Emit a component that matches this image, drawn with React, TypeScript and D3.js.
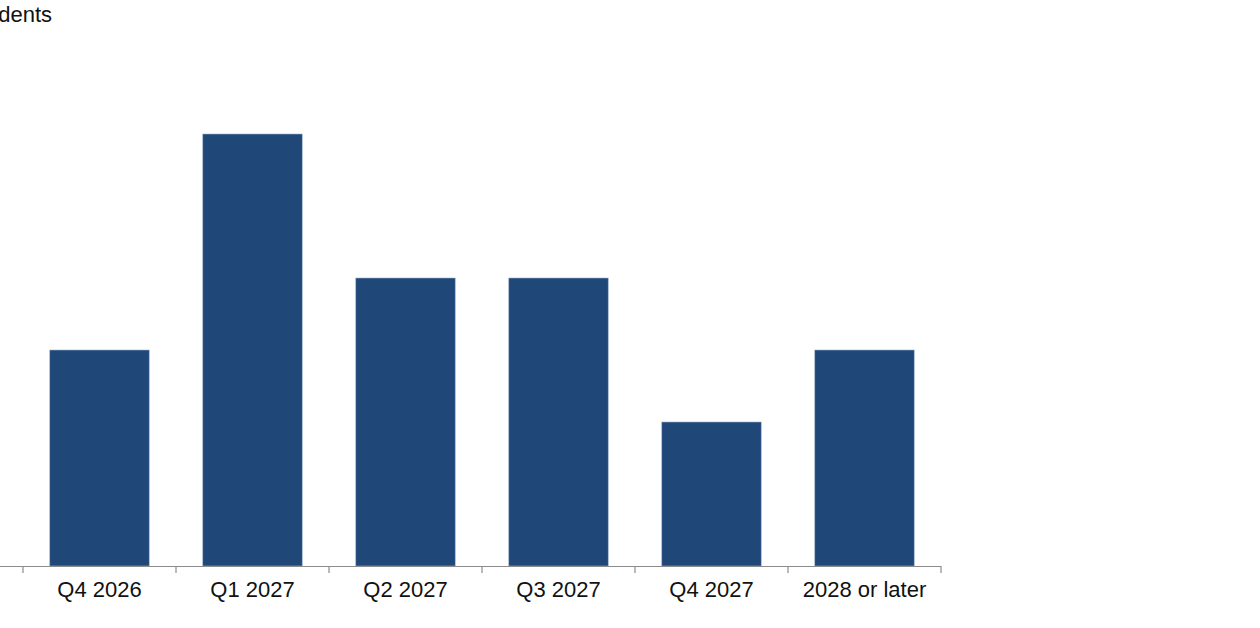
import { scaleBand, scaleLinear } from "d3";
import React from "react";

const categories = ["Q4 2026", "Q1 2027", "Q2 2027", "Q3 2027", "Q4 2027", "2028 or later"];
const respondents = [3, 6, 4, 4, 2, 3];
const yLabel = "Number of respondents";

const width = 1260;
const height = 628;
const baseY = 566;

const App: React.FC = () => {
	const xScale = scaleBand()
		.domain(categories)
		.range([23, 941])
		.paddingInner(0.35)
		.paddingOuter(0.175);
	const yScale = scaleLinear().domain([0, 7]).range([baseY, 62]);
	const step = xScale.step();
	const tickXs = categories.map((c) => (xScale(c) || 0) - (step * xScale.paddingInner()) / 2);
	tickXs.push(941);

	return (
		<svg
			width={width}
			height={height}
			style={{ position: "absolute", left: 0, top: 0, fontFamily: "Arial, 'Liberation Sans', sans-serif" }}>
			<rect width={width} height={height} fill="#fff" />
			<text x={52} y={22} textAnchor="end" fontSize={22} fill="#111">
				{yLabel}
			</text>
			{respondents.map((v, i) => (
				<rect
					key={i}
					x={xScale(categories[i]) || 0}
					y={yScale(v)}
					width={xScale.bandwidth()}
					height={baseY - yScale(v)}
					fill="#1F4879"
					stroke="#9fb3cc"
					strokeWidth={0.6}
				/>
			))}
			<line x1={0} x2={941} y1={baseY + 0.5} y2={baseY + 0.5} stroke="#8c8c8c" strokeWidth={1.2} />
			{tickXs.map((tx, i) => (
				<line key={i} x1={tx} x2={tx} y1={baseY} y2={baseY + 7} stroke="#8c8c8c" strokeWidth={1.2} />
			))}
			{categories.map((c) => (
				<text
					key={c}
					x={(xScale(c) || 0) + xScale.bandwidth() / 2}
					y={597}
					textAnchor="middle"
					fontSize={22}
					fill="#111">
					{c}
				</text>
			))}
		</svg>
	);
};

export default App;
